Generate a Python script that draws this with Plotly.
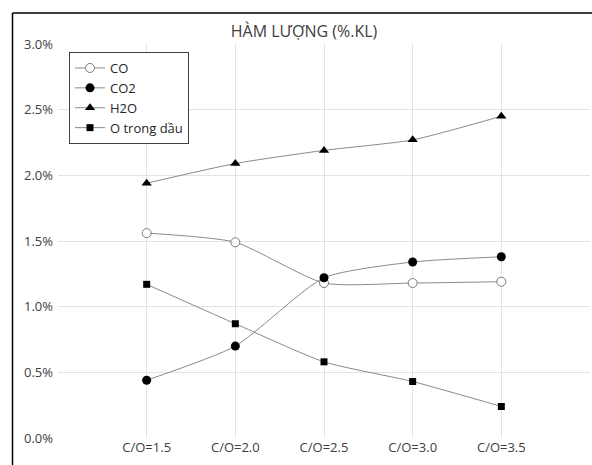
import plotly.graph_objects as go

# Categories (C/O ratio) and contents in %.KL
categories = ["C/O=1.5", "C/O=2.0", "C/O=2.5", "C/O=3.0", "C/O=3.5"]
co_values = [1.56, 1.49, 1.18, 1.18, 1.19]
co2_values = [0.44, 0.70, 1.22, 1.34, 1.38]
h2o_values = [1.94, 2.09, 2.19, 2.27, 2.45]
o_oil_values = [1.17, 0.87, 0.58, 0.43, 0.24]

y_ticks = [0.0, 0.5, 1.0, 1.5, 2.0, 2.5, 3.0]

W, H = 592, 465
ML, MR, MT, MB = 58, 2, 44, 27
plot_w = W - ML - MR
plot_h = H - MT - MB

positions = list(range(1, len(categories) + 1))

line_color = "#8a8a8a"
font_family = "Open Sans, Segoe UI, sans-serif"

series = [
    ("CO", co_values, dict(symbol="circle", size=9, color="white",
                           line=dict(color="#7a7a7a", width=1))),
    ("CO2", co2_values, dict(symbol="circle", size=9, color="black",
                             line=dict(color="black", width=0))),
    ("H2O", h2o_values, dict(symbol="triangle-up", size=9, color="black",
                             line=dict(color="black", width=0))),
    ("O trong dầu", o_oil_values, dict(symbol="square", size=7, color="black",
                                       line=dict(color="black", width=0))),
]

fig = go.Figure()
for name, vals, marker in series:
    fig.add_trace(go.Scatter(
        x=positions, y=vals, name=name, mode="lines+markers",
        line=dict(color=line_color, width=1, shape="spline", smoothing=0.6),
        marker=marker,
        hovertemplate="%{text}: %{y:.2f}%<extra>" + name + "</extra>",
        text=categories,
    ))

def px_x(px):
    return (px - ML) / plot_w

def px_y(py):
    return (H - MB - py) / plot_h

fig.update_layout(
    width=W, height=H,
    margin=dict(l=ML, r=MR, t=MT, b=MB),
    paper_bgcolor="white", plot_bgcolor="white",
    font=dict(family=font_family, size=13, color="#404040"),
    title=dict(text="HÀM LƯỢNG (%.KL)", x=px_x(304), xanchor="center",
               xref="paper", y=1 - 31 / H, yanchor="middle",
               font=dict(size=16, color="#404040", family=font_family)),
    showlegend=True,
    legend=dict(x=px_x(69), y=px_y(52), xanchor="left", yanchor="top",
                bgcolor="white", bordercolor="#404040", borderwidth=1,
                font=dict(size=13, color="#262626", family=font_family),
                itemwidth=30, tracegroupgap=0),
    xaxis=dict(range=[0, 6], tickmode="array",
               tickvals=[0] + positions + [6],
               ticktext=[""] + categories + [""],
               showgrid=True, gridcolor="#e3e3e3", gridwidth=1,
               zeroline=False, showline=False, ticks="",
               tickfont=dict(size=13, color="#404040")),
    yaxis=dict(range=[0, 3.0], tickmode="array", tickvals=y_ticks,
               ticktext=[f"{v:.1f}%" for v in y_ticks],
               showgrid=True, gridcolor="#e3e3e3", gridwidth=1,
               zeroline=False, showline=False, ticks="",
               ticklabelstandoff=4,
               tickfont=dict(size=13, color="#404040")),
)

# Chart-area frame (top and left edges)
fig.add_shape(type="line", xref="paper", yref="paper",
              x0=px_x(12.5), x1=px_x(W + 5), y0=px_y(13), y1=px_y(13),
              line=dict(color="black", width=1.5))
fig.add_shape(type="line", xref="paper", yref="paper",
              x0=px_x(12.5), x1=px_x(12.5), y0=px_y(13), y1=px_y(H + 5),
              line=dict(color="black", width=1.5))

fig.write_html("out.html")
